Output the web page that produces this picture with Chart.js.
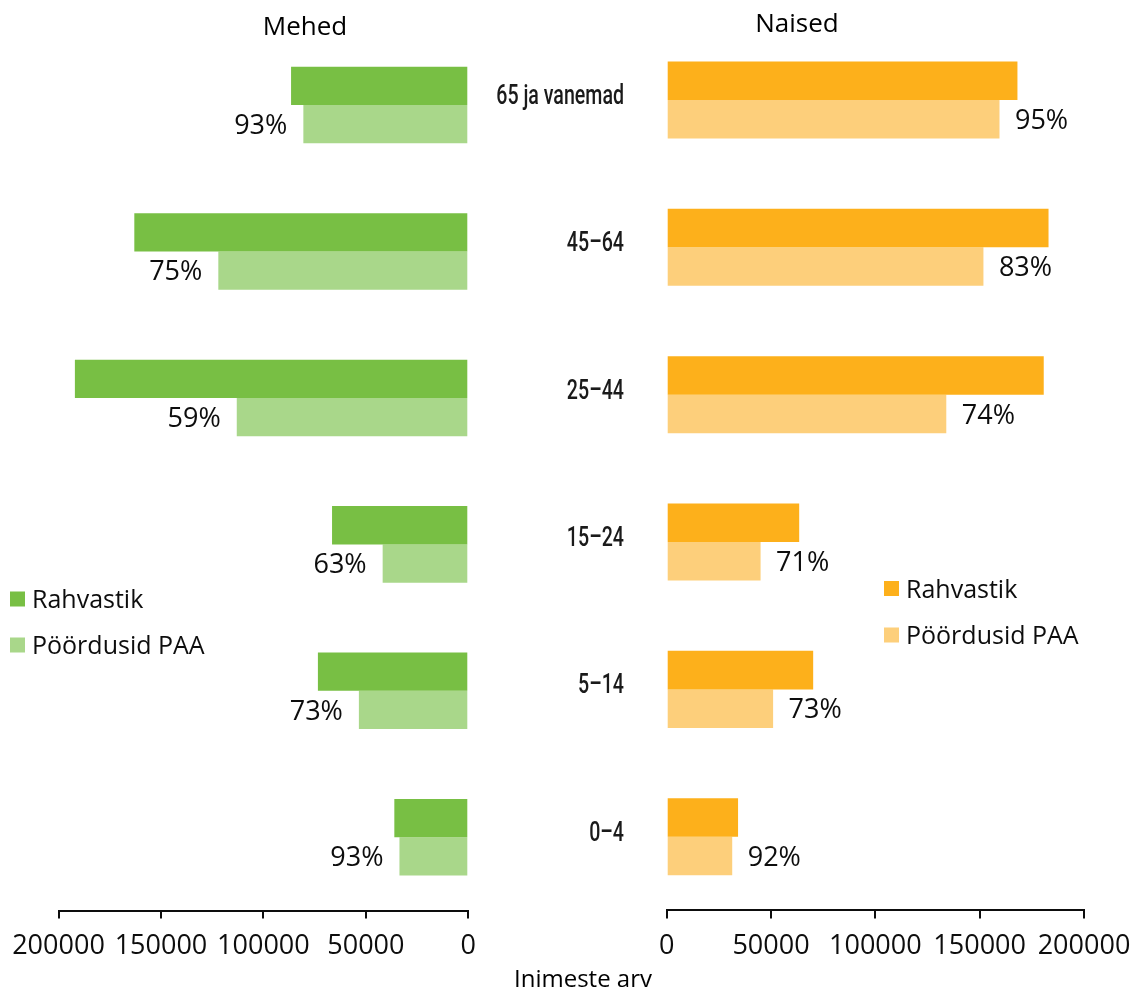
<!DOCTYPE html>
<html lang="et">
<head>
<meta charset="utf-8">
<title>Rahvastik ja pöördumised PAA poole soo ja vanuse järgi</title>
<script src="https://cdn.jsdelivr.net/npm/chart.js@4.4.1/dist/chart.umd.min.js"></script>
<style>
  html, body { margin: 0; padding: 0; background: #fff; }
  #wrap { position: relative; width: 1137px; height: 992px; overflow: hidden;
          font-family: "Open Sans", sans-serif; color: #000; }
  #left  { position: absolute; left: -30px; top: 0; }
  #right { position: absolute; left: 460px; top: 0; }
  .ttl { position: absolute; font-size: 26px; line-height: 36px; white-space: nowrap;
         transform: translateX(-50%); }
</style>
</head>
<body>
<div id="wrap">
  <canvas id="left" width="520" height="992"></canvas>
  <canvas id="right" width="694" height="992"></canvas>
  <div class="ttl" style="left:305px; top:7px;">Mehed</div>
  <div class="ttl" style="left:797px; top:4px;">Naised</div>
  <div class="ttl" style="left:583px; top:961px; font-size:24px; line-height:33px;">Inimeste arv</div>
</div>
<script>
// Age groups, top to bottom
const ageGroups = ['65 ja vanemad', '45–64', '25–44', '15–24', '5–14', '0–4'];
const seriesNames = ['Rahvastik', 'Pöördusid PAA'];

// Men
const menPopulation = [86500, 163000, 192000, 66500, 73400, 36100];
const menVisits     = [80500, 122000, 113000, 41800, 53400, 33600];
const menShare      = ['93%', '75%', '59%', '63%', '73%', '93%'];

// Women
const womenPopulation = [168100, 183000, 180700, 63500, 70200, 34200];
const womenVisits     = [159500, 151800, 134000, 45000, 51000, 31400];
const womenShare      = ['95%', '83%', '74%', '71%', '73%', '92%'];

// Value axis ticks
const axisTicks = [0, 50000, 100000, 150000, 200000];

const INK = '#0d0d0d';
const COLORS = {
  menPop: '#78BF44', menVis: '#A9D78A',
  womenPop: '#FDB01B', womenVis: '#FDCF7B'
};

Chart.defaults.font.family = '"Open Sans", sans-serif';
Chart.defaults.color = INK;

// Share-of-population labels next to the second bar of each group
const shareLabels = {
  id: 'shareLabels',
  afterDatasetsDraw(chart, args, o) {
    const meta = chart.getDatasetMeta(1);
    const ctx = chart.ctx;
    ctx.save();
    ctx.font = '27px "Open Sans", sans-serif';
    ctx.fillStyle = INK;
    ctx.textBaseline = 'middle';
    ctx.textAlign = o.side === 'left' ? 'right' : 'left';
    meta.data.forEach((bar, i) => {
      const x = o.side === 'left' ? bar.x - o.gap : bar.x + o.gap;
      ctx.fillText(o.labels[i], x, bar.y + 2);
    });
    ctx.restore();
  }
};

// Small legend block placed inside the panel
const panelLegend = {
  id: 'panelLegend',
  afterDraw(chart, args, o) {
    const ctx = chart.ctx;
    ctx.save();
    ctx.font = '25px "Open Sans", sans-serif';
    ctx.textBaseline = 'middle';
    ctx.textAlign = 'left';
    chart.data.datasets.forEach((ds, i) => {
      const cy = o.y + i * o.gap;
      ctx.fillStyle = ds.backgroundColor;
      ctx.fillRect(o.x, cy - 7.5, 15, 15);
      ctx.fillStyle = INK;
      ctx.fillText(ds.label, o.x + 22, cy + 2);
    });
    ctx.restore();
  }
};

// Narrow age-group labels between the two panels
const ageAxisLabels = {
  id: 'ageAxisLabels',
  afterDraw(chart, args, o) {
    const ys = chart.scales.y;
    const ctx = chart.ctx;
    ctx.save();
    ctx.fillStyle = '#1a1a1a';
    ctx.font = '500 28px Roboto, sans-serif';
    ctx.textAlign = 'right';
    ctx.textBaseline = 'middle';
    chart.data.labels.forEach((lab, i) => {
      const y = ys.getPixelForValue(i) + o.shiftY;
      ctx.save();
      ctx.translate(o.right, y);
      ctx.scale(o.stretch, 1);
      ctx.fillText(lab, 0, 0);
      ctx.restore();
    });
    ctx.restore();
  }
};

function valueScale(reverse) {
  return {
    type: 'linear', min: 0, max: 200000, reverse,
    afterBuildTicks: s => { s.ticks = axisTicks.map(v => ({ value: v })); },
    afterFit: s => { s.height = 60; },
    border: { display: true, color: INK, width: 2 },
    grid: { display: true, drawOnChartArea: false, drawTicks: true, tickLength: 8, color: INK, lineWidth: 2 },
    ticks: { color: INK, padding: 12, font: { size: 27 }, maxRotation: 0, autoSkip: false,
             callback: v => String(v) }
  };
}

function datasets(pop, vis, cPop, cVis) {
  return [
    { label: seriesNames[0], data: pop, backgroundColor: cPop, borderWidth: 0 },
    { label: seriesNames[1], data: vis, backgroundColor: cVis, borderWidth: 0 }
  ];
}

const common = {
  indexAxis: 'y',
  responsive: false,
  animation: false,
  events: [],
  datasets: { bar: { categoryPercentage: 0.523, barPercentage: 1 } }
};

// Men panel (value axis runs right to left)
new Chart(document.getElementById('left'), {
  type: 'bar',
  data: { labels: ageGroups, datasets: datasets(menPopulation, menVisits, COLORS.menPop, COLORS.menVis) },
  options: Object.assign({}, common, {
    layout: { autoPadding: false, padding: { left: 88.5, right: 21.7, top: 31.8, bottom: 21.5 } },
    scales: { x: valueScale(true), y: { type: 'category', display: false } },
    plugins: {
      legend: { display: false }, tooltip: { enabled: false },
      shareLabels: { labels: menShare, side: 'left', gap: 16 },
      panelLegend: { x: 40, y: 599, gap: 46 }
    }
  }),
  plugins: [shareLabels, panelLegend]
});

// Women panel, carrying the age-group labels on its left side
new Chart(document.getElementById('right'), {
  type: 'bar',
  data: { labels: ageGroups, datasets: datasets(womenPopulation, womenVisits, COLORS.womenPop, COLORS.womenVis) },
  options: Object.assign({}, common, {
    layout: { autoPadding: false, padding: { left: 0, right: 70, top: 26.3, bottom: 21.6 } },
    scales: {
      x: valueScale(false),
      y: { type: 'category', display: true, grid: { display: false }, border: { display: false },
           ticks: { display: false }, afterFit: s => { s.width = 206.7; } }
    },
    plugins: {
      legend: { display: false }, tooltip: { enabled: false },
      shareLabels: { labels: womenShare, side: 'right', gap: 15.5 },
      panelLegend: { x: 424, y: 588.5, gap: 46.5 },
      ageAxisLabels: { right: 164, shiftY: -3, stretch: 0.7 }
    }
  }),
  plugins: [shareLabels, panelLegend, ageAxisLabels]
});
</script>
</body>
</html>
